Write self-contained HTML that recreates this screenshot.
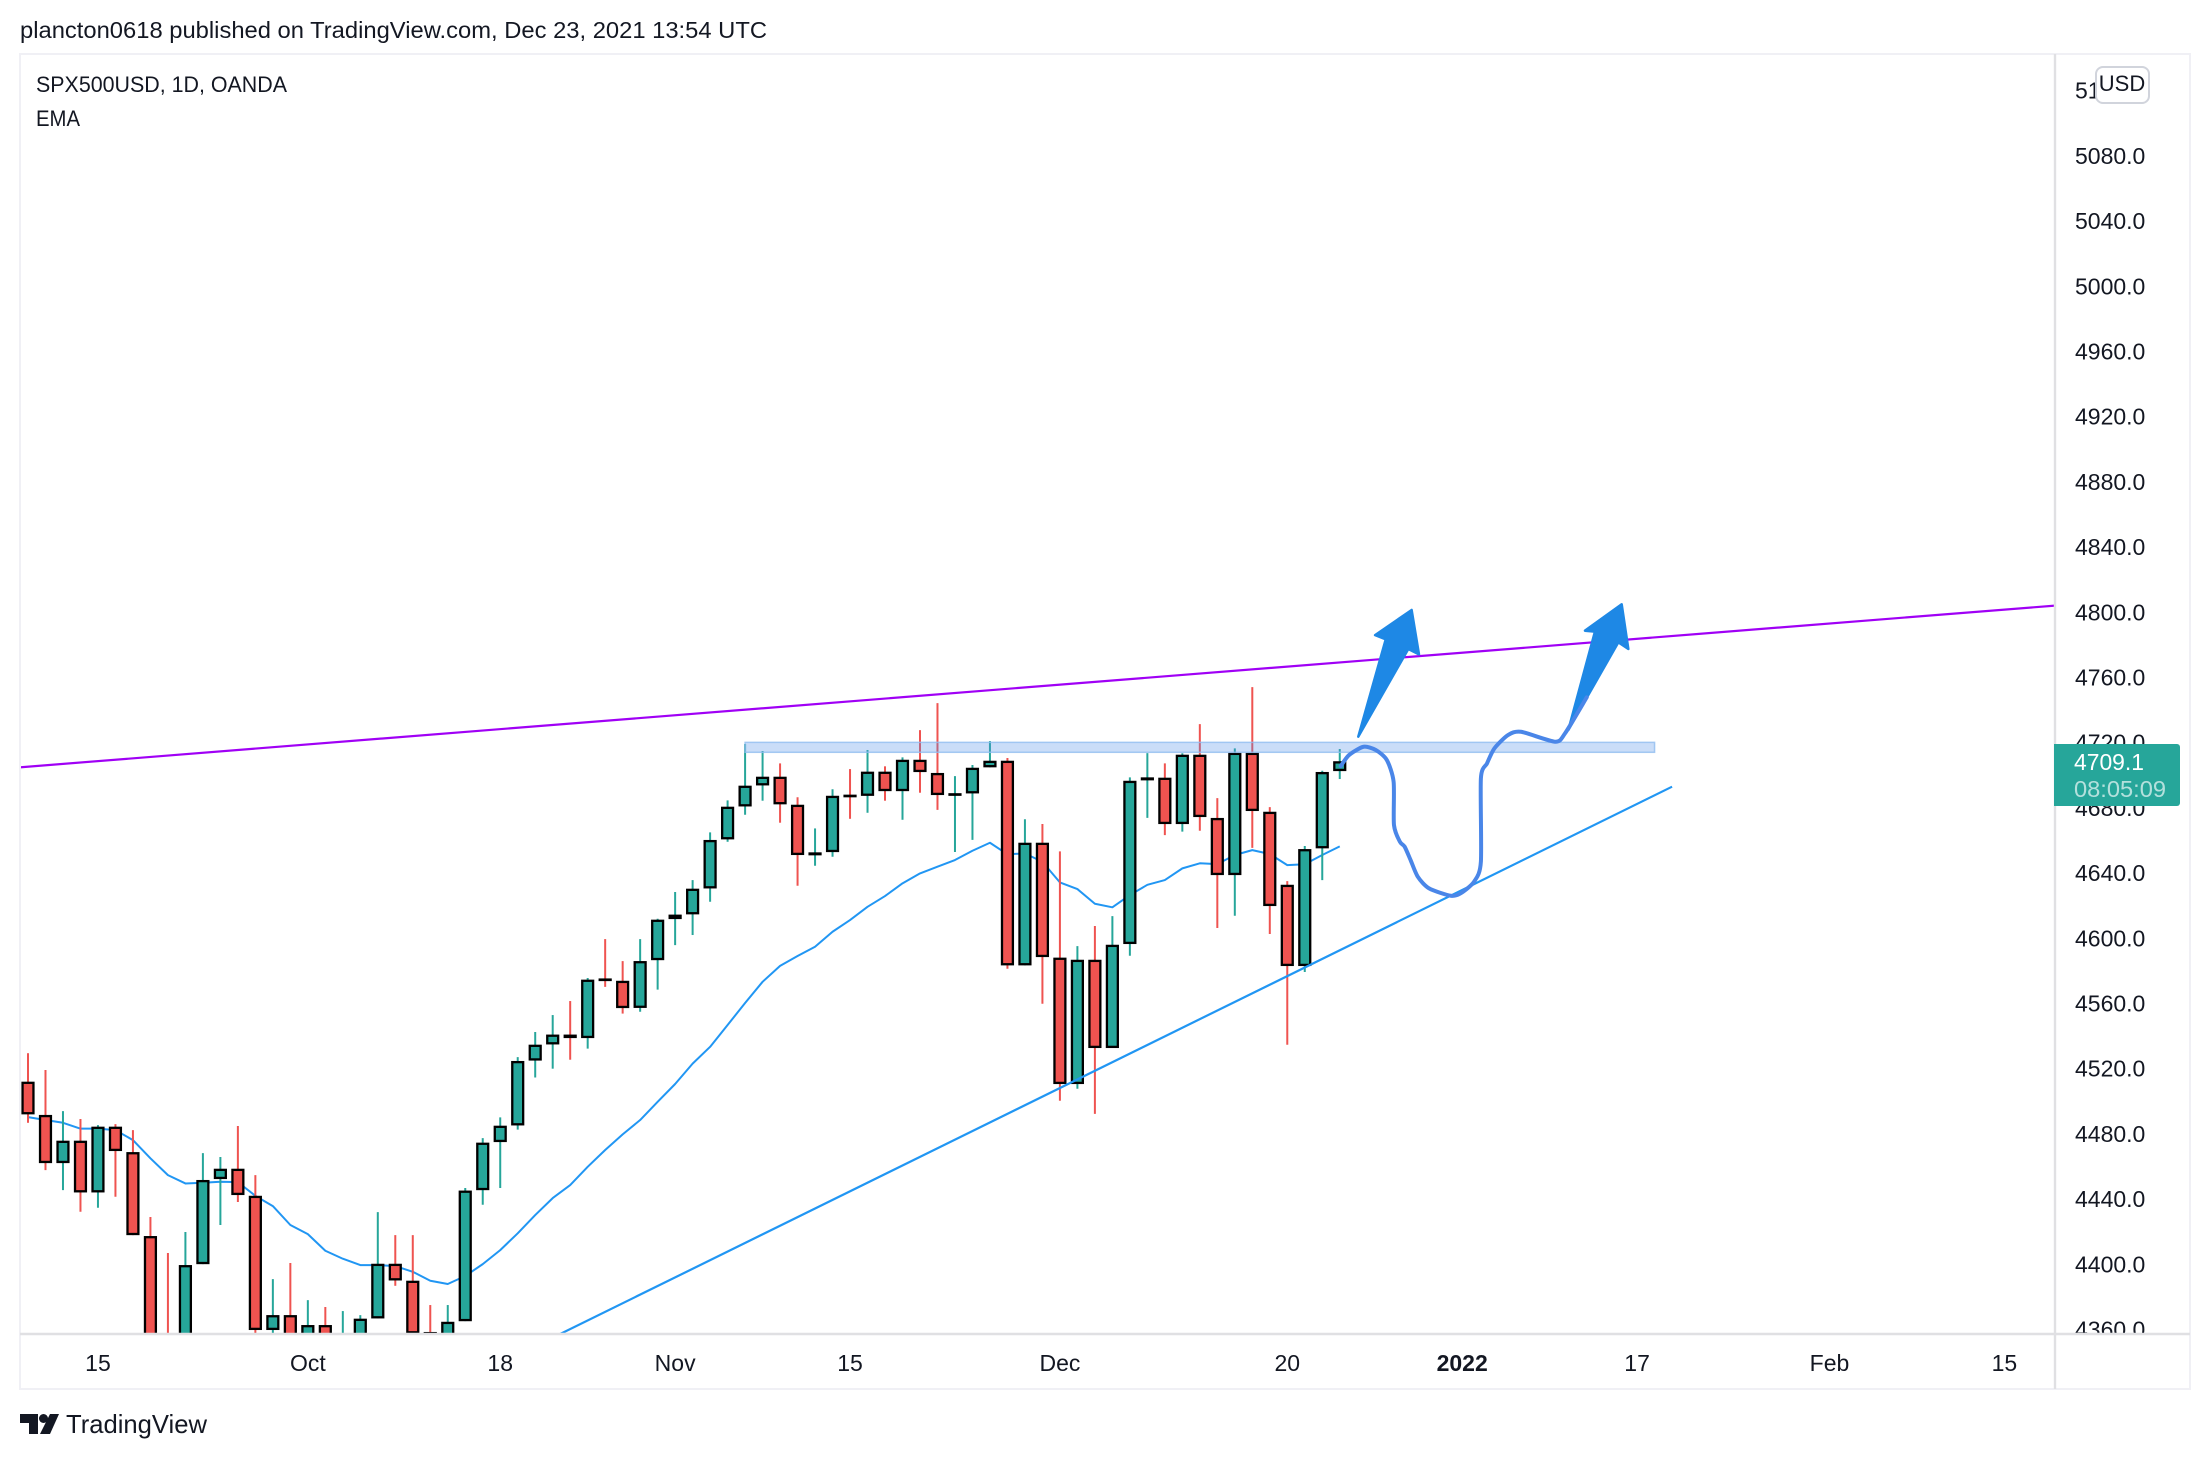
<!DOCTYPE html>
<html lang="en">
<head>
<meta charset="utf-8">
<title>SPX500USD TradingView chart</title>
<style>
html,body{margin:0;padding:0;background:#fff;width:2210px;height:1460px;overflow:hidden}
svg{display:block}
text{font-family:"Liberation Sans",Arial,sans-serif;fill:#131722}
</style>
</head>
<body>
<svg id="chart" xmlns="http://www.w3.org/2000/svg" width="2210" height="1460" viewBox="0 0 2210 1460">
  <defs>
    <clipPath id="pane-clip"><rect x="21" y="55" width="2034" height="1278"/></clipPath>
    <clipPath id="axis-clip"><rect x="2057" y="55" width="132" height="1278"/></clipPath>
  </defs>
  <rect x="0" y="0" width="2210" height="1460" fill="#ffffff"/>
  <text x="20" y="38" font-size="23" textLength="747" lengthAdjust="spacingAndGlyphs">plancton0618 published on TradingView.com, Dec 23, 2021 13:54 UTC</text>

  <g id="pane" clip-path="url(#pane-clip)">
    <g id="ema-layer"></g>
    <g id="candle-layer"></g>
    <g id="drawing-layer"></g>
  </g>

  <text x="36" y="92" font-size="22" textLength="251" lengthAdjust="spacingAndGlyphs">SPX500USD, 1D, OANDA</text>
  <text x="36" y="126" font-size="22" textLength="44" lengthAdjust="spacingAndGlyphs">EMA</text>

  <g id="price-axis" clip-path="url(#axis-clip)"></g>
  <g id="time-axis"></g>

  <rect x="20" y="54" width="2170" height="1335" fill="none" stroke="#f0f0f5" stroke-width="2"/>
  <line x1="2055" y1="54" x2="2055" y2="1389" stroke="#e0e0e3" stroke-width="2.4"/>
  <line x1="20" y1="1334" x2="2190" y2="1334" stroke="#e0e0e3" stroke-width="2.4"/>

  <g>
    <rect x="2096" y="67" width="53" height="36" rx="7" fill="#ffffff" stroke="#d1d4dc" stroke-width="2"/>
    <text x="2122" y="91" font-size="22" text-anchor="middle">USD</text>
  </g>

  <g>
    <path d="M2054 744H2177a3 3 0 0 1 3 3V803a3 3 0 0 1-3 3H2054Z" fill="#26a69a"/>
    <text x="2074" y="770" font-size="23" style="fill:#ffffff" textLength="70" lengthAdjust="spacingAndGlyphs">4709.1</text>
    <text x="2074" y="797" font-size="23" style="fill:#ffffff" fill-opacity="0.65" textLength="92" lengthAdjust="spacingAndGlyphs">08:05:09</text>
  </g>

  <g>
    <path d="M20 1414H38V1434H29V1423H20Z" fill="#131722"/>
    <circle cx="43.5" cy="1418.5" r="4.5" fill="#131722"/>
    <path d="M50 1414H59L50 1434H40Z" fill="#131722"/>
    <text x="66" y="1433" font-size="26" textLength="141" lengthAdjust="spacingAndGlyphs">TradingView</text>
  </g>
</svg>

<script>
const opens = [4512.5,4492.1,4462.6,4476.3,4444.6,4484.9,4469.3,4417.8,4350,4340,
4400.6,4452.8,4459.1,4442.5,4360.2,4369.3,4350,4363.2,4340,4345,
4367.3,4400.8,4390.4,4358.3,4350,4365.6,4446,4475.5,4485.7,4525.5,
4535.4,4541.4,4539.3,4575.1,4574.4,4557.8,4587.1,4612.3,4615.2,4631.1,
4661.2,4681.4,4694.3,4699.6,4682.4,4651.4,4653.4,4688,4687.9,4702.7,
4690.8,4710,4701.9,4688.2,4689.4,4705.4,4709.4,4583.9,4659.1,4588.6,
4511.1,4587.3,4533.2,4597,4697.4,4699,4670.6,4713.1,4674.3,4639.3,
4714.3,4678.1,4633.3,4583.5,4655.7,4703.1];
const highs = [4530,4519.7,4494.5,4489.6,4485.9,4486.5,4482.8,4429.5,4407.4,4420.3,
4468.7,4466.3,4485.3,4455.2,4391.4,4401.3,4378.5,4374.3,4371.8,4369.3,
4432.5,4418.4,4418.4,4375.5,4375.5,4447.3,4477.9,4490.6,4527.6,4543,
4553.4,4562,4576.1,4600,4586.5,4600,4612.5,4628.9,4636.2,4665.5,
4685.1,4719.7,4715.4,4707.8,4687,4667.9,4691.9,4704.3,4716,4706,
4711.5,4728.2,4744.8,4700,4706.8,4721.5,4711.1,4673.5,4670.6,4653.8,
4595.7,4608,4614.1,4699.2,4714.1,4707.8,4714,4731.9,4686.5,4717,
4754.6,4681,4635.6,4657.1,4703.3,4716.6];
const lows = [4487.3,4458.3,4446,4432.7,4435.2,4441.9,4418.4,4330,4325,4330,
4400.6,4424.6,4438.7,4352,4352,4350,4345,4345,4335,4340,
4367.3,4387.3,4358.1,4350,4345,4365.6,4437,4447.3,4483.1,4515.1,
4520.5,4526,4532.8,4570.7,4554.3,4555.4,4569,4596.3,4602.5,4622.9,
4659.7,4676.3,4684.9,4671.4,4632.7,4645,4650.5,4673.8,4677.5,4684.9,
4673.2,4689.8,4679.3,4653.4,4660.9,4705.4,4581.8,4583.9,4560.3,4500.8,
4508.2,4492.8,4533.2,4589.8,4674.4,4663.8,4665.9,4666.5,4606.8,4614.3,
4656,4603.1,4535.2,4579.8,4636.2,4698.2];
const closes = [4492.5,4462.6,4476.3,4444.6,4484.9,4470,4418.4,4345,4335,4400,
4452.2,4459.1,4443,4360.2,4369.3,4352,4363.2,4350,4350,4367.1,
4400.8,4390.6,4358.1,4358,4365.2,4445.7,4475.1,4485.5,4525.2,4535.2,
4541.4,4539.3,4575.1,4575,4557.7,4586.5,4611.9,4615,4630.9,4660.8,
4681.2,4694.1,4699.6,4682.7,4651.6,4653.2,4687.9,4687.6,4702.7,4690.8,
4710,4702.5,4688.4,4689.2,4705.1,4709.4,4583.9,4659.1,4589,4511.1,
4587.3,4533.2,4596.5,4697.1,4699.2,4670.6,4713.1,4674.9,4639.3,4714.3,
4678.6,4620.3,4583.5,4655.2,4702.5,4709.1];
const emaValues = [4490.8,4489,4487.3,4483.7,4483.7,4482.8,4476.7,4465.5,4455.2,4450.1,
4450.5,4451.1,4450.9,4442.5,4436.2,4424.6,4419,4408.8,4403.9,4400,
4400,4399.4,4395.9,4390.4,4388.4,4393.3,4400.6,4409.2,4419.5,4430.7,
4441.1,4449.1,4460.3,4470.6,4480.2,4489,4500.2,4511.1,4523.6,4533.9,
4547.3,4560.8,4573.8,4583.6,4589.6,4595.3,4604.5,4611.7,4619.8,4626.4,
4634.2,4640.3,4644.4,4648.5,4654.2,4659.1,4652,4652.6,4647.4,4634.8,
4630.7,4621.7,4619.5,4627,4633.3,4636.2,4643.4,4646.5,4646,4651.6,
4654.6,4652.2,4645.4,4645.9,4651.6,4656.9];
const priceTicks = [5120,5080,5040,5000,4960,4920,4880,4840,4800,4760,4720,4680,4640,4600,4560,4520,4480,4440,4400,4360];
const timeLabels = ["15","Oct","18","Nov","15","Dec","20","2022","17","Feb","15"];
const timeBars = [4,16,27,37,47,59,72,82,92,103,113];

const resistanceLineBars = [-0.46,115.9];
const resistanceLinePrices = [4705.4,4804.6];
const supportLineBars = [30.42,94];
const supportLinePrices = [4357.7,4693.5];
const zoneBars = [41,93];
const zonePrices = [4720.7,4714.6];
const sketchBars = [75.06,75.53,76.36,77.06,77.69,78.08,78.1,78.44,78.71,79.05,79.46,80.11,81.35,81.9,82.68,83.07,83.07,83.42,83.84,84.62,85.36,87.31,87.88,89.12];
const sketchPrices = [4706.2,4712.9,4718,4716,4709.9,4696.5,4670,4659.7,4656.7,4648.5,4638.3,4631.1,4626.6,4628,4635.2,4647.5,4698.6,4707.8,4717,4725.2,4727.2,4721.1,4726.2,4748.3];
const arrowOneBars = [76.06,77.63,77.02,79.11,79.53,78.92];
const arrowOnePrices = [4724.2,4783.9,4786.5,4801.9,4774.7,4778];
const arrowTwoBars = [88.07,89.59,89.02,91.12,91.5,90.93];
const arrowTwoPrices = [4728.3,4788.6,4789.2,4805.4,4778,4782.1];

const NS = "http://www.w3.org/2000/svg";
const UP = "#26a69a", DOWN = "#ef5350";
function xScale(bar){ return 28 + 17.49 * bar; }
function yScale(price){ return 156.7 + (5080 - price) * 1.63; }
function make(tag, parent, attrs){
  const el = document.createElementNS(NS, tag);
  for (const k in attrs) el.setAttribute(k, attrs[k]);
  parent.appendChild(el);
  return el;
}
function pointsOf(bars, prices){
  return bars.map((b, i) => xScale(b).toFixed(2) + "," + yScale(prices[i]).toFixed(2)).join(" ");
}
function smoothPath(bars, prices){
  const pts = bars.map((b, i) => [xScale(b), yScale(prices[i])]);
  let d = "M" + pts[0][0].toFixed(2) + " " + pts[0][1].toFixed(2);
  for (let i = 0; i < pts.length - 1; i++) {
    const p0 = pts[Math.max(i - 1, 0)], p1 = pts[i], p2 = pts[i + 1], p3 = pts[Math.min(i + 2, pts.length - 1)];
    const c1x = p1[0] + (p2[0] - p0[0]) / 8, c1y = p1[1] + (p2[1] - p0[1]) / 8;
    const c2x = p2[0] - (p3[0] - p1[0]) / 8, c2y = p2[1] - (p3[1] - p1[1]) / 8;
    d += "C" + c1x.toFixed(2) + " " + c1y.toFixed(2) + " " + c2x.toFixed(2) + " " + c2y.toFixed(2) + " " + p2[0].toFixed(2) + " " + p2[1].toFixed(2);
  }
  return d;
}

const emaLayer = document.getElementById("ema-layer");
const emaLine = make("polyline", emaLayer, {points: pointsOf(emaValues.map((v, i) => i), emaValues), fill: "none", stroke: "#2196f3", "stroke-width": 2, "stroke-linejoin": "round"});



const candleLayer = document.getElementById("candle-layer");
opens.forEach((open, i) => {
  const close = closes[i];
  const color = close >= open ? UP : DOWN;
  const cx = xScale(i);
  const wick = make("line", candleLayer, {x1: cx, x2: cx, y1: yScale(highs[i]), y2: yScale(lows[i]), stroke: color, "stroke-width": 2});
  
  
  const top = yScale(Math.max(open, close));
  const bottom = yScale(Math.min(open, close));
  const inner = bottom - top - 2.2;
  const h = Math.max(inner, 0.4);
  const y = inner > 0.4 ? top + 1.1 : (top + bottom) / 2 - 0.2;
  const body = make("rect", candleLayer, {x: cx - 5.45, y: y, width: 10.9, height: h, fill: color, stroke: "#000000", "stroke-width": 2.3});
  
  
});

const drawings = document.getElementById("drawing-layer");
const zoneRect = make("rect", drawings, {x: xScale(zoneBars[0]), y: yScale(zonePrices[0]), width: xScale(zoneBars[1]) - xScale(zoneBars[0]), height: yScale(zonePrices[1]) - yScale(zonePrices[0]), fill: "#4f8ee8", "fill-opacity": 0.3, stroke: "#90bdf0", "stroke-opacity": 0.8, "stroke-width": 1.5});



const resistanceLine = make("polyline", drawings, {points: pointsOf(resistanceLineBars, resistanceLinePrices), fill: "none", stroke: "#a000f5", "stroke-width": 2.2});



const supportLine = make("polyline", drawings, {points: pointsOf(supportLineBars, supportLinePrices), fill: "none", stroke: "#2196f3", "stroke-width": 2.2});



const arrowOne = make("polygon", drawings, {points: pointsOf(arrowOneBars, arrowOnePrices), fill: "#1e88e5", stroke: "#1e88e5", "stroke-width": 2.5, "stroke-linejoin": "round"});



const arrowTwo = make("polygon", drawings, {points: pointsOf(arrowTwoBars, arrowTwoPrices), fill: "#1e88e5", stroke: "#1e88e5", "stroke-width": 2.5, "stroke-linejoin": "round"});



const sketch = make("path", drawings, {d: smoothPath(sketchBars, sketchPrices), fill: "none", stroke: "#4a86e8", "stroke-width": 4, "stroke-linejoin": "round", "stroke-linecap": "round"});



const priceAxis = document.getElementById("price-axis");
priceTicks.forEach(p => {
  const t = make("text", priceAxis, {x: 2075, y: yScale(p) + 7.2, "font-size": 23});
  
  
  t.textContent = p.toFixed(1);
});

const timeAxis = document.getElementById("time-axis");
timeLabels.forEach((label, i) => {
  const t = make("text", timeAxis, {x: xScale(timeBars[i]), y: 1371, "font-size": 23, "text-anchor": "middle"});
  if (label === "2022") t.setAttribute("font-weight", "bold");
  
  
  t.textContent = label;
});
</script>
</body>
</html>
